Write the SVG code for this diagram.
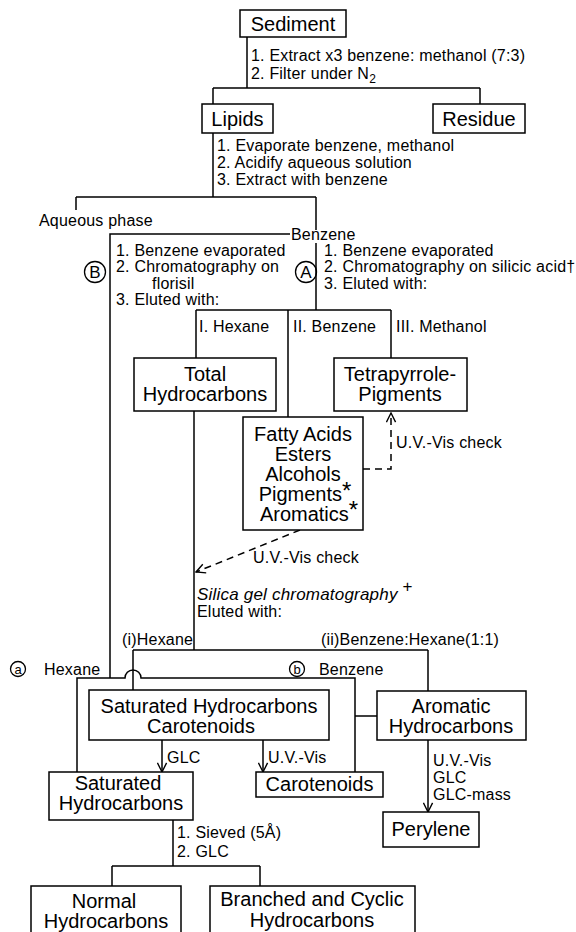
<svg xmlns="http://www.w3.org/2000/svg" width="576" height="932" viewBox="0 0 576 932">
<style>
  .box { fill: #fff; stroke: #000; stroke-width: 1.5; }
  .ln { fill: none; stroke: #000; stroke-width: 1.5; }
  .dash { fill: none; stroke: #000; stroke-width: 1.5; stroke-dasharray: 7 5; }
  text { font-family: "Liberation Sans", Arial, sans-serif; fill: #000; }
  .big { font-size: 20px; text-anchor: middle; }
  .sm { font-size: 16px; letter-spacing: 0.2px; }
  .it { font-size: 17px; font-style: italic; letter-spacing: 0.2px; }
  .circ { fill: none; stroke: #000; stroke-width: 1.3; }
  .cl { font-size: 17px; text-anchor: middle; }
  .cls { font-size: 13px; text-anchor: middle; }
  .ast { font-size: 24px; }
</style>
<defs>
  <marker id="arr" viewBox="0 0 12 12" refX="11" refY="6" markerWidth="11" markerHeight="11" markerUnits="userSpaceOnUse" orient="auto">
    <path d="M1,1 L11,6 L1,11" fill="none" stroke="#000" stroke-width="1.5"/>
  </marker>
</defs>
<rect width="576" height="932" fill="#fff"/>

<g id="connectors">
  <path class="ln" d="M247,37 V88 M213,88 H480 M213,88 V104 M480,88 V104"/>
  <path class="ln" d="M213,133 V197 M76,197 H316 M76,197 V210 M316,197 V230 M316,243 V310"/>
  <path class="ln" d="M290,234 H110 V678"/>
  <path class="ln" d="M196,310 H391 M196,310 V358 M288,310 V417 M391,310 V358"/>
  <path class="ln" d="M194,411 V650"/>
  <path class="dash" d="M363,469 H391 V413" marker-end="url(#arr)"/>
  <path class="dash" d="M300,530 L196,572" marker-end="url(#arr)"/>
  <path class="ln" d="M133,650 H428 M133,650 V690 M428,650 V691"/>
  <path class="ln" d="M77,772 V678 H125 A8,8 0 0 1 141,678 H355 V772 M355,716 H377"/>
  <path class="ln" d="M162,740 V772" marker-end="url(#arr)"/>
  <path class="ln" d="M263,740 V772" marker-end="url(#arr)"/>
  <path class="ln" d="M428,740 V812" marker-end="url(#arr)"/>
  <path class="ln" d="M173,820 V866 M112,866 H260 M112,866 V886 M260,866 V886"/>

  <text class="sm" x="251" y="61">1. Extract x3 benzene: methanol (7:3)</text>
  <text class="sm" x="251" y="79">2. Filter under N<tspan font-size="12" dy="4">2</tspan></text>
  <text class="sm" x="217" y="151">1. Evaporate benzene, methanol</text>
  <text class="sm" x="217" y="168">2. Acidify aqueous solution</text>
  <text class="sm" x="217" y="185">3. Extract with benzene</text>
  <text class="sm" x="39" y="226">Aqueous phase</text>
  <text class="sm" x="291" y="240">Benzene</text>

  <text class="sm" x="116" y="256">1. Benzene evaporated</text>
  <text class="sm" x="116" y="272">2. Chromatography on</text>
  <text class="sm" x="152" y="289">florisil</text>
  <text class="sm" x="116" y="305">3. Eluted with:</text>
  <circle class="circ" cx="95" cy="272" r="10.5"/>
  <text class="cl" x="95" y="278">B</text>

  <text class="sm" x="324" y="256">1. Benzene evaporated</text>
  <text class="sm" x="324" y="272">2. Chromatography on silicic acid†</text>
  <text class="sm" x="324" y="289">3. Eluted with:</text>
  <circle class="circ" cx="306" cy="272" r="10.5"/>
  <text class="cl" x="306" y="278">A</text>

  <text class="sm" x="199" y="332">I. Hexane</text>
  <text class="sm" x="293" y="332">II. Benzene</text>
  <text class="sm" x="396" y="332">III. Methanol</text>
  <text class="sm" x="396" y="448">U.V.-Vis check</text>
  <text class="sm" x="253" y="563">U.V.-Vis check</text>
  <text class="it" x="197" y="600">Silica gel chromatography <tspan font-style="normal" font-size="17" dy="-8">+</tspan></text>
  <text class="sm" x="197" y="617">Eluted with:</text>

  <text class="sm" x="122" y="645">(i)Hexane</text>
  <text class="sm" x="321" y="645">(ii)Benzene:Hexane(1:1)</text>
  <circle class="circ" cx="18" cy="669" r="7.5"/>
  <text class="cls" x="18" y="673.5">a</text>
  <text class="sm" x="44" y="675">Hexane</text>
  <circle class="circ" cx="297" cy="669" r="7.5"/>
  <text class="cls" x="297" y="673.5">b</text>
  <text class="sm" x="319" y="675">Benzene</text>

  <text class="sm" x="167" y="763">GLC</text>
  <text class="sm" x="268" y="763">U.V.-Vis</text>
  <text class="sm" x="433" y="766">U.V.-Vis</text>
  <text class="sm" x="433" y="783">GLC</text>
  <text class="sm" x="433" y="800">GLC-mass</text>
  <text class="sm" x="177" y="838">1. Sieved (5Å)</text>
  <text class="sm" x="177" y="857">2. GLC</text>
</g>

<g id="sediment">
  <rect class="box" x="240" y="10" width="106" height="27"/>
  <text class="big" x="293" y="31">Sediment</text>
</g>
<g id="lipids">
  <rect class="box" x="202" y="104" width="71" height="29"/>
  <text class="big" x="237.5" y="126">Lipids</text>
</g>
<g id="residue">
  <rect class="box" x="433" y="104" width="92" height="29"/>
  <text class="big" x="479" y="126">Residue</text>
</g>
<g id="total-hydrocarbons">
  <rect class="box" x="134" y="358" width="142" height="53"/>
  <text class="big" x="205" y="381">Total</text>
  <text class="big" x="205" y="401">Hydrocarbons</text>
</g>
<g id="tetrapyrrole-pigments">
  <rect class="box" x="334" y="358" width="133" height="53"/>
  <text class="big" x="400" y="381">Tetrapyrrole-</text>
  <text class="big" x="400" y="401">Pigments</text>
</g>
<g id="fatty-acids">
  <rect class="box" x="243" y="417" width="120" height="113"/>
  <text class="big" x="303" y="441">Fatty Acids</text>
  <text class="big" x="303" y="461">Esters</text>
  <text class="big" x="303" y="481">Alcohols</text>
  <text class="big" x="305" y="501">Pigments<tspan class="ast" dy="-2">*</tspan></text>
  <text class="big" x="309" y="521">Aromatics<tspan class="ast" dy="-3">*</tspan></text>
</g>
<g id="saturated-carotenoids">
  <rect class="box" x="89" y="690" width="240" height="50"/>
  <text class="big" x="209" y="713">Saturated Hydrocarbons</text>
  <text class="big" x="201" y="733">Carotenoids</text>
</g>
<g id="aromatic-hydrocarbons">
  <rect class="box" x="377" y="691" width="149" height="49"/>
  <text class="big" x="451" y="713">Aromatic</text>
  <text class="big" x="451" y="733">Hydrocarbons</text>
</g>
<g id="saturated-hydrocarbons">
  <rect class="box" x="49" y="772" width="144" height="48"/>
  <text class="big" x="118" y="790">Saturated</text>
  <text class="big" x="121" y="810">Hydrocarbons</text>
</g>
<g id="carotenoids">
  <rect class="box" x="256" y="772" width="127" height="25"/>
  <text class="big" x="319.5" y="791">Carotenoids</text>
</g>
<g id="perylene">
  <rect class="box" x="383" y="812" width="96" height="35"/>
  <text class="big" x="431" y="836">Perylene</text>
</g>
<g id="normal-hydrocarbons">
  <rect class="box" x="31" y="886" width="150" height="60"/>
  <text class="big" x="104" y="908">Normal</text>
  <text class="big" x="106" y="928">Hydrocarbons</text>
</g>
<g id="branched-cyclic">
  <rect class="box" x="210" y="886" width="205" height="60"/>
  <text class="big" x="312" y="906">Branched and Cyclic</text>
  <text class="big" x="312" y="927">Hydrocarbons</text>
</g>
</svg>
